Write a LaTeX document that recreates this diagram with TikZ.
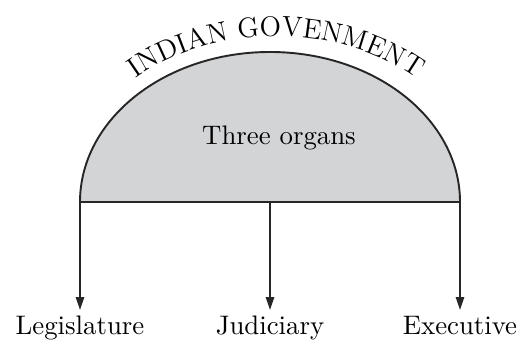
\documentclass[tikz,border=0pt]{standalone}
\usetikzlibrary{arrows.meta,decorations.text}
\definecolor{organfill}{RGB}{211,212,214}
\begin{document}
\begin{tikzpicture}[x=0.392pt,y=0.392pt,
  outline/.style={draw=black!85,line width=0.75pt},
  branch/.style={draw=black!85,line width=0.75pt,-{Triangle[length=5pt,width=3.2pt]}},
  organ/.style={anchor=base,inner sep=0pt,font=\fontsize{10.5}{12.6}\selectfont}]
\useasboundingbox (0,0) rectangle (525,343);
% dome
\draw[outline,fill=organfill] (80,141) arc[start angle=180,end angle=0,x radius=190,y radius=150] -- cycle;
\node[organ] (three) at (279,198) {Three organs};
% curved title
\path[decorate,decoration={text along path,text align=center,text format delimiters={|}{|},
  text={|\fontsize{11}{13}\selectfont|INDIAN GOVENMENT}}]
  (66,141) arc[start angle=180,end angle=0,x radius=210,y radius=166];
% branch points
\coordinate (L) at (80,141);
\coordinate (J) at (270,141);
\coordinate (E) at (460,141);
\coordinate (Ltip) at (80,33);
\coordinate (Jtip) at (270,33);
\coordinate (Etip) at (460,33);
\draw[branch] (L) -- (Ltip);
\draw[branch] (J) -- (Jtip);
\draw[branch] (E) -- (Etip);
\node[organ] (leg) at (80,8) {Legislature};
\node[organ] (jud) at (270,8) {Judiciary};
\node[organ] (exe) at (460,8) {Executive};
\end{tikzpicture}
\end{document}
